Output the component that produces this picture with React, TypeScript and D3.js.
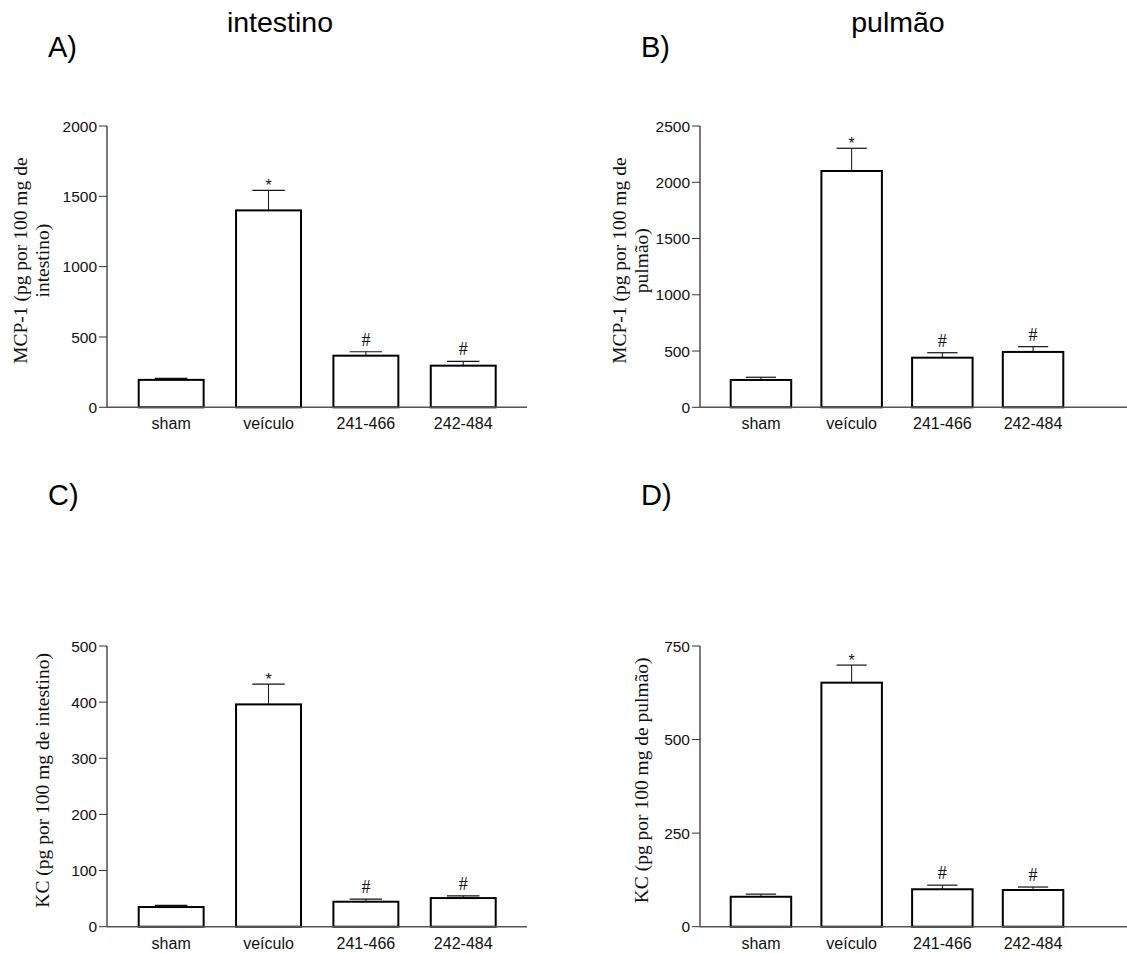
import React from "react";
import * as d3 from "d3";

// groups on the x axis
const categories = ["sham", "veículo", "241-466", "242-484"];
// significance marks above each bar
const marks = ["", "*", "#", "#"];

// A) MCP-1 intestino
const mcpIntestinoMean = [195, 1400, 367, 296];
const mcpIntestinoErr = [10, 143, 28, 31];
const mcpIntestinoTicks = [0, 500, 1000, 1500, 2000];

// B) MCP-1 pulmão
const mcpPulmaoMean = [243, 2100, 441, 492];
const mcpPulmaoErr = [24, 202, 44, 47];
const mcpPulmaoTicks = [0, 500, 1000, 1500, 2000, 2500];

// C) KC intestino
const kcIntestinoMean = [35, 396, 44.5, 51];
const kcIntestinoErr = [3, 36, 4.5, 4];
const kcIntestinoTicks = [0, 100, 200, 300, 400, 500];

// D) KC pulmão
const kcPulmaoMean = [80, 652, 100, 98];
const kcPulmaoErr = [7, 47, 11, 8];
const kcPulmaoTicks = [0, 250, 500, 750];

const SANS = "'Liberation Sans', Arial, sans-serif";
const SERIF = "'Liberation Serif', 'Times New Roman', serif";

type PanelProps = {
  letter: string;
  letterY: number;
  means: number[];
  errs: number[];
  ticks: number[];
  yLabel: string[];
  labelX: number;
  axisX: number;
  axisEnd: number;
  top: number;
  bottom: number;
  barStart: number;
  barEnd: number;
};

const Panel = (p: PanelProps) => {
  const x = d3
    .scaleBand<string>()
    .domain(categories)
    .range([p.barStart, p.barEnd])
    .paddingInner(0.333)
    .paddingOuter(0);
  const y = d3
    .scaleLinear()
    .domain([0, p.ticks[p.ticks.length - 1]])
    .range([p.bottom, p.top]);
  const bw = x.bandwidth();
  const mid = (p.top + p.bottom) / 2 - 6;
  const lineGap = 22.5;

  return (
    <g>
      <text x={p.axisX - 59} y={p.letterY} fontFamily={SANS} fontSize={29}>
        {p.letter}
      </text>

      {/* y axis label, rotated */}
      {p.yLabel.map((line, i) => {
        const lx = p.labelX + (i - (p.yLabel.length - 1) / 2) * lineGap;
        return (
          <text
            key={i}
            transform={`translate(${lx},${mid}) rotate(-90)`}
            textAnchor="middle"
            dy="0.3em"
            fontFamily={SERIF}
            fontSize={19.5}
            fill="#111"
          >
            {line}
          </text>
        );
      })}

      {/* y axis */}
      <line x1={p.axisX} x2={p.axisX} y1={p.top} y2={p.bottom} stroke="#222" strokeWidth={1.2} />
      {p.ticks.map((t) => (
        <g key={t}>
          <line x1={p.axisX - 8} x2={p.axisX} y1={y(t)} y2={y(t)} stroke="#333" strokeWidth={1} />
          <text
            x={p.axisX - 10}
            y={y(t)}
            dy="0.36em"
            textAnchor="end"
            fontFamily={SANS}
            fontSize={15.5}
            fill="#111"
          >
            {t}
          </text>
        </g>
      ))}

      {/* bars with error bars */}
      {categories.map((c, i) => {
        const x0 = x(c) as number;
        const cx = x0 + bw / 2;
        const yTop = y(p.means[i]);
        const yCap = y(p.means[i] + p.errs[i]);
        return (
          <g key={c}>
            <line x1={cx} x2={cx} y1={yTop} y2={yCap} stroke="#111" strokeWidth={1} />
            <line x1={cx - bw / 4} x2={cx + bw / 4} y1={yCap} y2={yCap} stroke="#111" strokeWidth={1.2} />
            <rect
              x={x0}
              y={yTop}
              width={bw}
              height={p.bottom - yTop}
              fill="#fff"
              stroke="#000"
              strokeWidth={2}
            />
            {marks[i] === "*" && (
              <text x={cx} y={yCap + 1} textAnchor="middle" fontFamily={SANS} fontSize={16} fill="#111">
                *
              </text>
            )}
            {marks[i] === "#" && (
              <text x={cx} y={yCap - 6} textAnchor="middle" fontFamily={SERIF} fontSize={18} fill="#111">
                #
              </text>
            )}
            <text
              x={cx}
              y={p.bottom + 22}
              textAnchor="middle"
              fontFamily={SANS}
              fontSize={16}
              fill="#111"
            >
              {c}
            </text>
          </g>
        );
      })}

      {/* x axis */}
      <line x1={p.axisX} x2={p.axisEnd} y1={p.bottom} y2={p.bottom} stroke="#555" strokeWidth={1.6} />
    </g>
  );
};

export default function App() {
  return (
    <svg
      width={1127}
      height={953}
      style={{ position: "absolute", left: 0, top: 0, background: "#fff" }}
    >
      <text x={280} y={32} textAnchor="middle" fontFamily={SANS} fontSize={28.5}>
        intestino
      </text>
      <text x={898} y={32} textAnchor="middle" fontFamily={SANS} fontSize={28.5}>
        pulmão
      </text>

      <Panel
        letter="A)"
        letterY={57}
        means={mcpIntestinoMean}
        errs={mcpIntestinoErr}
        ticks={mcpIntestinoTicks}
        yLabel={["MCP-1 (pg por 100 mg de", "intestino)"]}
        labelX={32}
        axisX={107}
        axisEnd={527}
        top={126}
        bottom={407.3}
        barStart={138.7}
        barEnd={495.7}
      />
      <Panel
        letter="B)"
        letterY={57}
        means={mcpPulmaoMean}
        errs={mcpPulmaoErr}
        ticks={mcpPulmaoTicks}
        yLabel={["MCP-1 (pg por 100 mg de", "pulmão)"]}
        labelX={631}
        axisX={700}
        axisEnd={1127}
        top={126}
        bottom={407.3}
        barStart={730.7}
        barEnd={1063.3}
      />
      <Panel
        letter="C)"
        letterY={505}
        means={kcIntestinoMean}
        errs={kcIntestinoErr}
        ticks={kcIntestinoTicks}
        yLabel={["KC (pg por  100 mg de intestino)"]}
        labelX={43}
        axisX={107}
        axisEnd={527}
        top={646}
        bottom={926.7}
        barStart={138.7}
        barEnd={495.7}
      />
      <Panel
        letter="D)"
        letterY={505}
        means={kcPulmaoMean}
        errs={kcPulmaoErr}
        ticks={kcPulmaoTicks}
        yLabel={["KC (pg por 100 mg de pulmão)"]}
        labelX={642}
        axisX={700}
        axisEnd={1127}
        top={646}
        bottom={926.7}
        barStart={730.7}
        barEnd={1063.3}
      />
    </svg>
  );
}
